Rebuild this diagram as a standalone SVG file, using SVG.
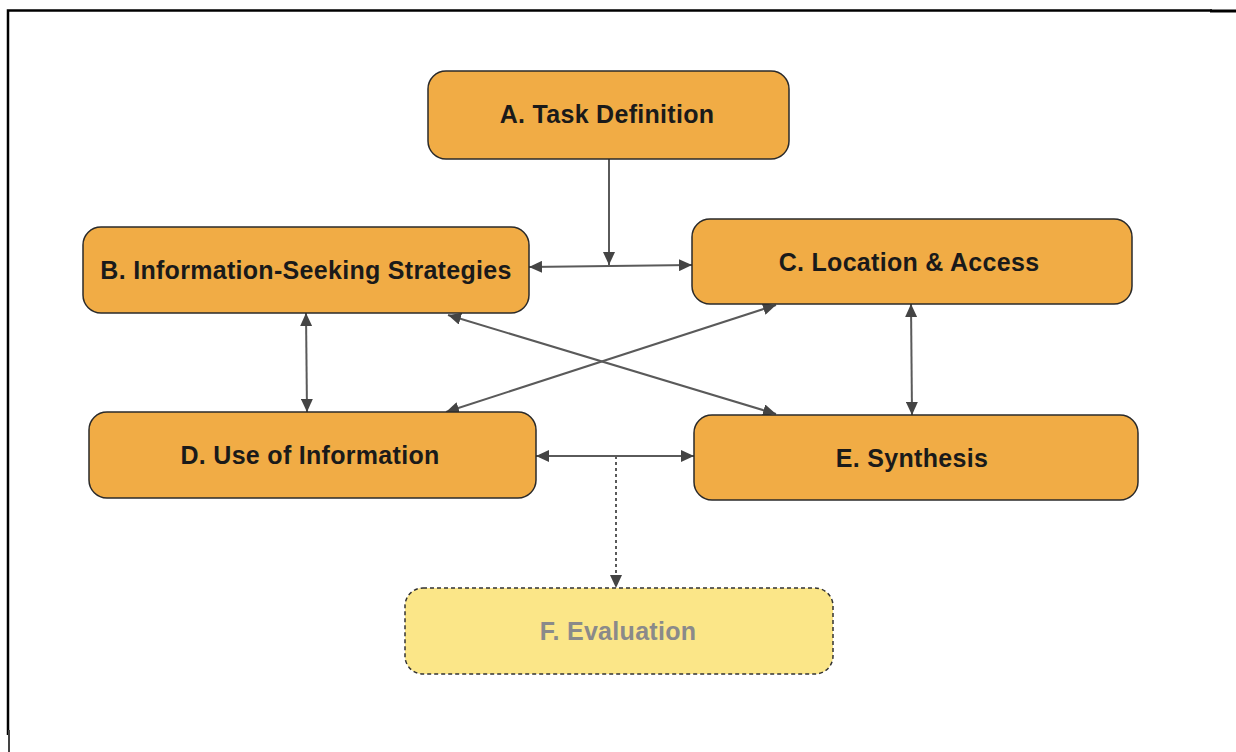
<svg xmlns="http://www.w3.org/2000/svg" width="1236" height="752" viewBox="0 0 1236 752">
  <style>
    .box { fill: #F1AC45; stroke: #2a2a2a; stroke-width: 1.5; }
    .boxf { fill: #FBE688; stroke: #333; stroke-width: 1.5; stroke-dasharray: 4 3; }
    .lbl { font-family: "Liberation Sans", Arial, sans-serif; font-weight: bold; font-size: 25px; letter-spacing: 0.3px; fill: #1a1a1a; text-anchor: middle; }
    .lblf { fill: #8a8a8a; }
    .edge { stroke: #5a5a5a; stroke-width: 2; fill: none; }
    .dash { stroke-dasharray: 3 3; }
  </style>
  <defs>
    <marker id="arr" viewBox="0 0 13 12" refX="13" refY="6" markerWidth="13" markerHeight="12" markerUnits="userSpaceOnUse" orient="auto-start-reverse">
      <path d="M0,0 L13,6 L0,12 Z" fill="#444"/>
    </marker>
  </defs>

  <rect width="1236" height="752" fill="#fff"/>

  <!-- page frame -->
  <g id="frame" stroke="#000" fill="none">
    <path d="M8,735 L8,10.5 L1212,10.5" stroke-width="2.5"/>
    <path d="M1210,11 L1236,11" stroke-width="3"/>
    <path d="M9,730 L9,752" stroke="#444" stroke-width="2"/>
  </g>

  <!-- connectors -->
  <g id="connectors">
    <path class="edge" d="M609,159 L609,265" marker-end="url(#arr)"/>
    <path class="edge" d="M529,267 L692,265" marker-start="url(#arr)" marker-end="url(#arr)"/>
    <path class="edge" d="M306,313 L307,412" marker-start="url(#arr)" marker-end="url(#arr)"/>
    <path class="edge" d="M911,304 L912,415" marker-start="url(#arr)" marker-end="url(#arr)"/>
    <path class="edge" d="M448,315 L776,414" marker-start="url(#arr)" marker-end="url(#arr)"/>
    <path class="edge" d="M776,305 L446,412" marker-start="url(#arr)" marker-end="url(#arr)"/>
    <path class="edge" d="M536,456 L694,456" marker-start="url(#arr)" marker-end="url(#arr)"/>
    <path class="edge dash" d="M616,456 L616,588" marker-end="url(#arr)"/>
  </g>

  <g id="nodeA">
    <rect class="box" x="428" y="71" width="361" height="88" rx="18"/>
    <text class="lbl" x="607" y="123">A. Task Definition</text>
  </g>
  <g id="nodeB">
    <rect class="box" x="83" y="227" width="446" height="86" rx="18"/>
    <text class="lbl" x="306" y="279">B. Information-Seeking Strategies</text>
  </g>
  <g id="nodeC">
    <rect class="box" x="692" y="219" width="440" height="85" rx="18"/>
    <text class="lbl" x="909" y="271">C. Location &amp; Access</text>
  </g>
  <g id="nodeD">
    <rect class="box" x="89" y="412" width="447" height="86" rx="18"/>
    <text class="lbl" x="310" y="464">D. Use of Information</text>
  </g>
  <g id="nodeE">
    <rect class="box" x="694" y="415" width="444" height="85" rx="18"/>
    <text class="lbl" x="912" y="467">E. Synthesis</text>
  </g>
  <g id="nodeF">
    <rect class="boxf" x="405" y="588" width="428" height="86" rx="18"/>
    <text class="lbl lblf" x="618" y="640">F. Evaluation</text>
  </g>
</svg>
